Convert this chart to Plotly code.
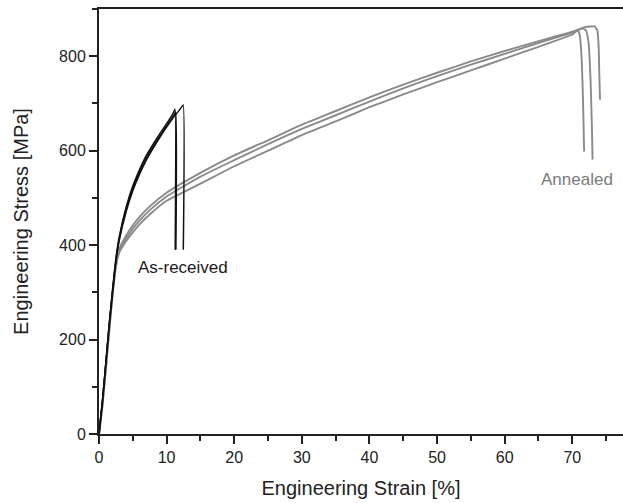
import plotly.graph_objects as go

# ---------------- data ----------------
# As-received (black) curves: strain [%], stress [MPa]
ar1_strain = [0, 0.5, 1.0, 1.5, 2.0, 2.5, 3.0, 4.0, 5.0, 6.0, 7.0, 8.0, 9.0, 10.0, 11.0, 11.25, 11.27]
ar1_stress = [0, 70, 150, 232, 305, 372, 418, 480, 525, 560, 590, 614, 636, 657, 680, 688, 390]
ar2_strain = [0, 0.5, 1.0, 1.5, 2.0, 2.5, 3.0, 4.0, 5.0, 6.0, 7.0, 8.0, 9.0, 10.0, 11.0, 11.35, 11.37]
ar2_stress = [0, 68, 148, 229, 302, 368, 414, 475, 520, 555, 585, 609, 631, 652, 673, 682, 390]
ar3_strain = [0, 0.5, 1.0, 1.5, 2.0, 2.5, 3.0, 4.0, 5.0, 6.0, 7.0, 8.0, 9.0, 10.0, 11.0, 12.0, 12.45, 12.47]
ar3_stress = [0, 66, 145, 226, 298, 364, 410, 470, 515, 550, 580, 605, 628, 650, 670, 688, 697, 390]

# Annealed (grey) curves
an1_strain = [0, 0.5, 1.0, 1.5, 2.0, 2.5, 3.0, 4.0, 5.0, 6.0, 7.5, 10, 15, 20, 25, 30, 35, 40, 45, 50, 55, 60, 65, 70, 72, 73.3, 73.7, 73.9, 74.0, 74.1]
an1_stress = [0, 62, 140, 222, 298, 360, 392, 420, 442, 460, 482, 511, 553, 590, 622, 655, 684, 713, 740, 765, 789, 811, 832, 852, 862, 863, 855, 820, 760, 708]
an2_strain = [0, 0.5, 1.0, 1.5, 2.0, 2.5, 3.0, 4.0, 5.0, 6.0, 7.5, 10, 15, 20, 25, 30, 35, 40, 45, 50, 55, 60, 65, 70, 71.5, 72.0, 72.4, 72.7, 72.9, 73.0]
an2_stress = [0, 60, 138, 220, 296, 357, 388, 414, 435, 452, 474, 503, 545, 580, 614, 646, 675, 704, 732, 758, 782, 805, 828, 850, 859, 855, 830, 750, 650, 581]
an3_strain = [0, 0.5, 1.0, 1.5, 2.0, 2.5, 3.0, 4.0, 5.0, 6.0, 7.5, 10, 15, 20, 25, 30, 35, 40, 45, 50, 55, 60, 65, 70, 70.8, 71.1, 71.4, 71.6, 71.75]
an3_stress = [0, 58, 135, 217, 293, 354, 384, 408, 427, 444, 465, 494, 530, 567, 600, 633, 662, 692, 719, 745, 770, 795, 820, 846, 855, 845, 790, 700, 598]

x_ticks = [0, 10, 20, 30, 40, 50, 60, 70]
y_ticks = [0, 200, 400, 600, 800]

BLACK = "#111111"
GREY = "#8a8a8a"
FONT = "Liberation Sans, Arial, sans-serif"

fig = go.Figure()
for xs, ys in [(an1_strain, an1_stress), (an2_strain, an2_stress), (an3_strain, an3_stress)]:
    fig.add_trace(go.Scatter(x=xs, y=ys, mode="lines",
                             line=dict(color=GREY, width=1.9, shape="spline", smoothing=0.4),
                             showlegend=False, hoverinfo="skip"))
for xs, ys in [(ar1_strain, ar1_stress), (ar2_strain, ar2_stress), (ar3_strain, ar3_stress)]:
    fig.add_trace(go.Scatter(x=xs, y=ys, mode="lines",
                             line=dict(color=BLACK, width=1.5, shape="spline", smoothing=0.4),
                             showlegend=False, hoverinfo="skip"))

fig.add_annotation(x=12.4, y=352, text="As-received", showarrow=False,
                   font=dict(family=FONT, size=17, color="#1a1a1a"))
fig.add_annotation(x=70.7, y=538, text="Annealed", showarrow=False,
                   font=dict(family=FONT, size=17, color="#7a7a7a"))

axis_common = dict(showline=True, linecolor="#222222", linewidth=2,
                   ticks="outside", ticklen=8, tickwidth=1.5, tickcolor="#222222",
                   showgrid=False, zeroline=False, automargin=False,
                   tickfont=dict(family=FONT, size=16, color="#222222"))

fig.update_xaxes(range=[0, 77.5], tickvals=x_ticks, mirror=True,
                 minor=dict(dtick=5, ticklen=5, tickwidth=1.5, tickcolor="#222222", ticks="outside"),
                 title=dict(text="Engineering Strain [%]", font=dict(family=FONT, size=20, color="#222222"), standoff=16),
                 **axis_common)
fig.update_yaxes(range=[0, 900], tickvals=y_ticks,
                 minor=dict(dtick=100, ticklen=5, tickwidth=1.5, tickcolor="#222222", ticks="outside"),
                 title=dict(text="Engineering Stress [MPa]", font=dict(family=FONT, size=20, color="#222222"), standoff=25),
                 **axis_common)

fig.update_layout(width=623, height=503,
                  margin=dict(l=99, r=0, t=9, b=69),
                  paper_bgcolor="white", plot_bgcolor="white")

fig.write_html("out.html", config={"displayModeBar": False},
               post_script="document.body.style.margin='0';")
